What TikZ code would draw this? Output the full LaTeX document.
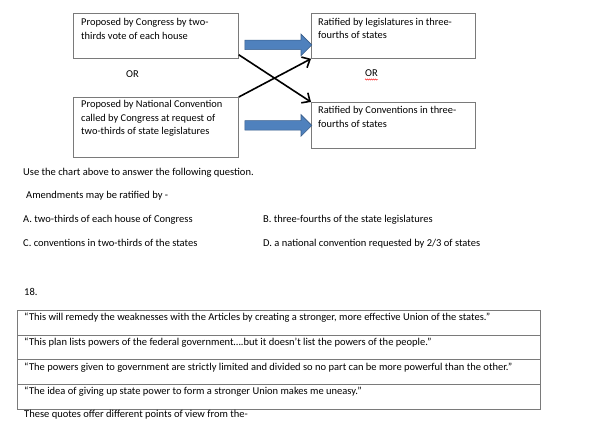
\documentclass[tikz,border=0pt]{standalone}
\usepackage{fontspec}
\setmainfont{Carlito}
\usepackage{tikz}
\usetikzlibrary{shapes.arrows, arrows.meta, positioning, calc, decorations.pathmorphing}

\definecolor{boxgray}{HTML}{7A7A7A}
\definecolor{arrowblue}{HTML}{4F81BD}
\definecolor{arrowedge}{HTML}{385D8A}

\tikzset{
  chartbox/.style={draw=boxgray, line width=0.8pt, rectangle, inner sep=0pt, anchor=north west},
  boxtext/.style={anchor=north west, inner sep=0pt, align=left, font=\fontsize{10.4}{13.5}\selectfont, execute at begin node=\strut},
  line/.style={anchor=base west, inner sep=0pt, font=\fontsize{10.5}{13.5}\selectfont},
  blockarrow/.style={single arrow, fill=arrowblue, draw=arrowedge, line width=0.6pt, inner xsep=0pt, inner ysep=4.5pt, single arrow head extend=6pt, minimum height=67pt},
  crossarrow/.style={-{Straight Barb[length=6.5pt, width=12pt]}, line width=1.6pt},
  quoterow/.style={draw=boxgray, line width=0.8pt, rectangle, inner sep=0pt, anchor=north west, minimum width=523pt}
}

\begin{document}
\begin{tikzpicture}[x=1pt, y=-1pt]
\useasboundingbox (0,0) rectangle (590,427);

% Proposal boxes
\node[chartbox, minimum width=165pt, minimum height=45pt] (congress) at (73,13) {};
\node[boxtext] at ($(congress.north west)+(8,5.5)$) {Proposed by Congress by two-\\thirds vote of each house};

\node[chartbox, minimum width=165pt, minimum height=60pt] (convention) at (73,97) {};
\node[boxtext] at ($(convention.north west)+(8,3.5)$) {Proposed by National Convention\\called by Congress at request of\\two-thirds of state legislatures};

% Ratification boxes
\node[chartbox, minimum width=164pt, minimum height=45pt] (legis) at (311,13) {};
\node[boxtext] at ($(legis.north west)+(7,5)$) {Ratified by legislatures in three-\\fourths of states};

\node[chartbox, minimum width=164pt, minimum height=46pt] (ratconv) at (311,102) {};
\node[boxtext] at ($(ratconv.north west)+(7,4.5)$) {Ratified by Conventions in three-\\fourths of states};

% OR labels
\node[line] (orleft) at (126,78) {OR};
\node[line] (orright) at (365,77) {OR};
\draw[red, line width=0.4pt, decorate, decoration={snake, amplitude=0.6pt, segment length=2pt}]
  ($(orright.base west)+(0,2.5)$) -- ($(orright.base east)+(0,2.5)$);

% Blue arrows
\node[blockarrow] (upper) at ($($(congress.east)!0.5!(legis.west)$)+(1,9)$) {};
\node[blockarrow] (lower) at ($($(convention.east)!0.5!(ratconv.west)$)+(1,-1)$) {};

% Crossing arrows
\draw[crossarrow] ($(congress.south east)+(0,-4)$) -- (ratconv.north west);
\draw[crossarrow] (convention.north east) -- (legis.south west);

% Question text
\node[line] (intro) at (23,175.5) {Use the chart above to answer the following question.};
\node[line] (stem) at (26,198.5) {Amendments may be ratified by -};
\node[line] (optA) at (23,222.5) {A. two-thirds of each house of Congress};
\node[line] (optB) at (263,222.5) {B. three-fourths of the state legislatures};
\node[line] (optC) at (23,246.5) {C. conventions in two-thirds of the states};
\node[line] (optD) at (263,246.5) {D. a national convention requested by 2/3 of states};

% Question 18
\node[line] (num) at (24,296) {18.};

\node[quoterow, minimum height=25pt] (q1) at (17,310) {};
\node[quoterow, minimum height=24pt] (q2) at (17,335) {};
\node[quoterow, minimum height=25pt] (q3) at (17,359) {};
\node[quoterow, minimum height=25pt] (q4) at (17,384) {};

\node[line] at ($(q1.north west)+(7,10.5)$) {“This will remedy the weaknesses with the Articles by creating a stronger, more effective Union of the states.”};
\node[line] at ($(q2.north west)+(7,11)$) {“This plan lists powers of the federal government….but it doesn’t list the powers of the people.”};
\node[line] at ($(q3.north west)+(7,11.5)$) {“The powers given to government are strictly limited and divided so no part can be more powerful than the other.”};
\node[line] at ($(q4.north west)+(7,11)$) {“The idea of giving up state power to form a stronger Union makes me uneasy.”};

\node[line] (closing) at (24,418) {These quotes offer different points of view from the-};
\end{tikzpicture}
\end{document}
